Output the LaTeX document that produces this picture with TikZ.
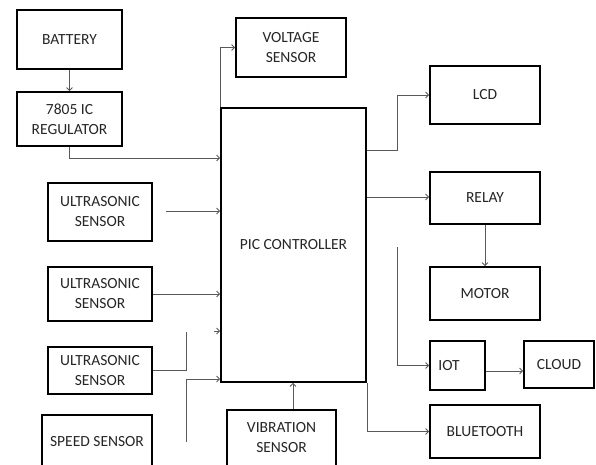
\documentclass[tikz,border=0pt]{standalone}
\usepackage{fontspec}
\setmainfont{Carlito}
\usetikzlibrary{arrows.meta}
\begin{document}
\begin{tikzpicture}[x=1pt,y=-1pt,
 blk/.style={draw=black, line width=1.8pt, inner sep=2pt, align=center, font=\fontsize{15.5}{20}\selectfont, text=black!85},
 conn/.style={draw=black!65, line width=0.8pt, -{Straight Barb[length=3pt,width=6pt]}},
 plain/.style={draw=black!65, line width=0.8pt}]
\clip (0,0) rectangle (596,465);
\fill[white] (0,0) rectangle (596,465);
\node[blk,minimum width=105pt,minimum height=59pt] (bat) at (69.5,39.5) {BATTERY};
\node[blk,minimum width=105pt,minimum height=54pt] (reg) at (69.5,119) {7805 IC\\REGULATOR};
\node[blk,minimum width=110pt,minimum height=59pt] (volt) at (291,47.5) {VOLTAGE\\SENSOR};
\node[blk,minimum width=145pt,minimum height=274pt] (pic) at (293.5,245) {PIC CONTROLLER};
\node[blk,minimum width=110pt,minimum height=58pt] (lcd) at (485,95) {LCD};
\node[blk,minimum width=110pt,minimum height=52pt] (relay) at (485,198) {RELAY};
\node[blk,minimum width=110pt,minimum height=53pt] (motor) at (485,293.5) {MOTOR};
\node[blk,minimum width=55pt,minimum height=49pt] (iot) at (457.5,365.5) {IOT\hspace{17pt}};
\node[blk,minimum width=70pt,minimum height=47pt] (cloud) at (559,364.5) {CLOUD};
\node[blk,minimum width=110pt,minimum height=53pt] (bt) at (485,431.5) {BLUETOOTH};
\node[blk,minimum width=104pt,minimum height=58pt] (us1) at (100,212) {ULTRASONIC\\SENSOR};
\node[blk,minimum width=104pt,minimum height=54pt] (us2) at (100,294) {ULTRASONIC\\SENSOR};
\node[blk,minimum width=104pt,minimum height=47pt] (us3) at (100,370.5) {ULTRASONIC\\SENSOR};
\node[blk,minimum width=110pt,minimum height=54pt] (speed) at (97,442) {SPEED SENSOR};
\node[blk,minimum width=109pt,minimum height=56pt] (vib) at (281.5,438) {VIBRATION\\SENSOR};
% connectors
\draw[conn] (bat.south) -- (reg.north);
\coordinate (y158) at (0,158);
\draw[conn] (reg.south) |- (pic.west |- y158);
\draw[conn] (pic.north west) |- (volt.west);
\coordinate (l1) at (397,150);
\draw[conn] (pic.east |- l1) -- (l1) |- (lcd.west);
\coordinate (r1) at (0,197);
\draw[conn] (pic.east |- r1) -- (relay.west |- r1);
\draw[conn] (relay.south) -- (motor.north);
\coordinate (i1) at (397,247);
\draw[conn] (i1) |- (iot.west);
\coordinate (c1) at (0,371);
\draw[conn] (iot.east |- c1) -- (cloud.west |- c1);
\draw[conn] (pic.south east) |- (bt.west);
\coordinate (u1) at (166,211);
\draw[conn] (u1) -- (pic.west |- u1);
\draw[conn] (us2.east) -- (pic.west |- us2.east);
\coordinate (u3) at (186,332);
\draw[plain] (us3.east) -| (u3);
\coordinate (u4) at (214,331);
\draw[conn] (u4) -- (pic.west |- u4);
\coordinate (s1) at (186,442);
\coordinate (s2) at (186,379);
\draw[conn] (s1) -- (s2) -- (pic.west |- s2);
\coordinate (v1) at (293,0);
\draw[conn] (vib.north -| v1) -- (pic.south -| v1);
\end{tikzpicture}
\end{document}
